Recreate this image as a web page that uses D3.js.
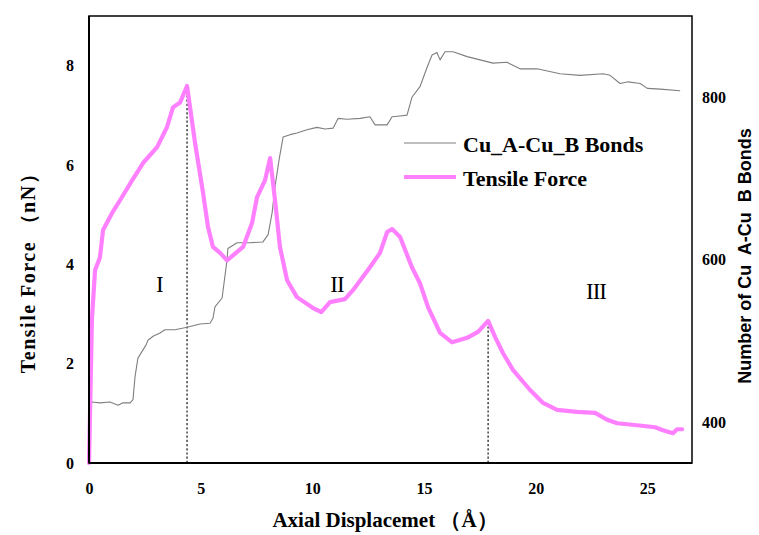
<!DOCTYPE html>
<html>
<head>
<meta charset="utf-8">
<script src="https://cdn.jsdelivr.net/npm/d3@7"></script>
<style>
  html, body { margin: 0; padding: 0; background: #fff; }
  svg { display: block; }
  .serif { font-family: "Times New Roman", "Liberation Serif", serif; }
  .sans { font-family: Arial, "Liberation Sans", sans-serif; }
</style>
</head>
<body>
<svg id="chart" width="759" height="535"></svg>
<script>
// Tensile force (nN) against axial displacement (Å)
const forceX = [0, 0.04, 0.13, 0.27, 0.49, 0.63, 1.03, 1.39, 1.93, 2.42, 3.05, 3.49, 3.76, 4.08, 4.39,
  4.75, 5.11, 5.33, 5.55, 5.87, 6.18, 6.90, 7.30, 7.52, 7.88, 8.11, 8.33, 8.55, 8.87, 9.31, 10.03, 10.4,
  10.79, 11.46, 11.82, 12.58, 13.03, 13.35, 13.57, 13.93, 14.46, 14.82, 15.18, 15.72, 16.26, 16.93, 17.42,
  17.87, 18.18, 18.54, 18.99, 19.75, 20.33, 20.96, 21.85, 22.66, 23.2, 23.65, 24.54, 25.35, 25.7, 26.15,
  26.33, 26.56];
const forceY = [0, 0.87, 2.88, 3.88, 4.14, 4.69, 5.03, 5.29, 5.69, 6.04, 6.36, 6.76, 7.16, 7.26, 7.59,
  6.44, 5.43, 4.75, 4.35, 4.23, 4.08, 4.35, 4.83, 5.35, 5.69, 6.14, 5.29, 4.35, 3.68, 3.34, 3.12, 3.04,
  3.24, 3.30, 3.48, 3.94, 4.23, 4.65, 4.71, 4.55, 3.94, 3.62, 3.14, 2.62, 2.43, 2.52, 2.64,
  2.86, 2.54, 2.21, 1.87, 1.47, 1.21, 1.07, 1.03, 1.01, 0.87, 0.80, 0.76, 0.72, 0.66, 0.60,
  0.68, 0.68];

// Number of Cu_A-Cu_B bonds against axial displacement (Å)
const bondX = [0, 0.13, 0.49, 0.94, 1.30, 1.52, 1.84, 1.97, 2.06, 2.19, 2.37, 2.55, 2.64, 2.87, 3.18,
  3.40, 3.85, 4.39, 4.97, 5.42, 5.55, 5.64, 5.96, 6.18, 6.22, 6.63, 7.21, 7.79, 8.02, 8.20, 8.33, 8.51,
  8.69, 9.0, 9.31, 9.76, 10.21, 10.57, 10.93, 11.15, 11.55, 12.14, 12.58, 12.81, 13.35, 13.57, 13.93,
  14.24, 14.46, 14.82, 15.14, 15.36, 15.58, 15.72, 15.94, 16.30, 16.93, 17.51, 18.09, 18.72, 19.30,
  20.06, 21.09, 21.99, 23.02, 23.33, 23.78, 24.14, 24.68, 25.0, 25.58, 26.47];
const bondY = [420, 425, 424, 425, 421, 424, 424, 428, 456, 479, 487, 495, 501, 506, 510,
  514, 514, 517, 521, 522, 528, 542, 553, 600, 614, 621, 621, 622, 631, 658, 690, 723,
  751, 754, 756, 760, 763, 761, 762, 774, 773, 774, 776, 766, 766, 776, 777,
  778, 800, 813, 837, 852, 855, 846, 856, 856, 850, 846, 842, 843, 835,
  835, 829, 827, 829, 827, 817, 819, 817, 811, 810, 808];

// Displacements of the two marked force peaks
const peakX = [4.39, 17.87];
const peakForce = [7.59, 2.86];

// Stage labels
const stageNames = ["I", "II", "III"];
const stageX = [3.15, 11.1, 22.7];
const stageForce = [3.6, 3.6, 3.45];

const xTicks = [0, 5, 10, 15, 20, 25];
const leftTicks = [0, 2, 4, 6, 8];
const rightTicks = [400, 600, 800];

const margin = { left: 89, top: 16, right: 692, bottom: 463 };

const svg = d3.select("#chart");

const x = d3.scaleLinear().domain([0, 27]).range([margin.left, margin.right]);
const yL = d3.scaleLinear().domain([0, 9]).range([margin.bottom, margin.top]);
const yR = d3.scaleLinear().domain([350, 900]).range([margin.bottom, margin.top]);

const pink = "#ff80ff";
const grey = "#7f7f7f";

// Stage boundary markers (dotted drop lines)
svg.append("g").selectAll("line").data(peakX).join("line")
  .attr("x1", d => x(d)).attr("x2", d => x(d))
  .attr("y1", yL(0)).attr("y2", (d, i) => yL(peakForce[i]))
  .attr("stroke", "#000").attr("stroke-width", 1.1)
  .attr("stroke-dasharray", "2.2,2");

// Bond count curve
const bondLine = d3.line().x((d, i) => x(bondX[i])).y(d => yR(d));
svg.append("path").datum(bondY)
  .attr("d", bondLine)
  .attr("fill", "none").attr("stroke", grey).attr("stroke-width", 1.1)
  .attr("stroke-linejoin", "round");

// Tensile force curve
const forceLine = d3.line().x((d, i) => x(forceX[i])).y(d => yL(d));
svg.append("path").datum(forceY)
  .attr("d", forceLine)
  .attr("fill", "none").attr("stroke", pink).attr("stroke-width", 4.2)
  .attr("stroke-linejoin", "round").attr("stroke-linecap", "round");

// Frame
svg.append("rect")
  .attr("x", margin.left).attr("y", margin.top)
  .attr("width", margin.right - margin.left).attr("height", margin.bottom - margin.top)
  .attr("fill", "none").attr("stroke", "#000").attr("stroke-width", 1.5);
svg.append("line").attr("x1", margin.left).attr("x2", margin.left)
  .attr("y1", margin.top).attr("y2", margin.bottom).attr("stroke", "#000").attr("stroke-width", 2);
svg.append("line").attr("x1", margin.left).attr("x2", margin.right)
  .attr("y1", margin.bottom).attr("y2", margin.bottom).attr("stroke", "#000").attr("stroke-width", 2.2);

// Axes (labels only, no tick marks)
const xAxis = svg.append("g").attr("transform", `translate(0,${margin.bottom})`)
  .call(d3.axisBottom(x).tickValues(xTicks).tickSize(0).tickPadding(20).tickFormat(d3.format("d")));
const lAxis = svg.append("g").attr("transform", `translate(${margin.left},0)`)
  .call(d3.axisLeft(yL).tickValues(leftTicks).tickSize(0).tickPadding(15).tickFormat(d3.format("d")));
const rAxis = svg.append("g").attr("transform", `translate(${margin.right},0)`)
  .call(d3.axisRight(yR).tickValues(rightTicks).tickSize(0).tickPadding(10).tickFormat(d3.format("d")));
[xAxis, lAxis, rAxis].forEach(g => {
  g.select(".domain").remove();
  g.selectAll("text").attr("class", "serif")
    .style("font-size", "16px").style("font-weight", "bold").attr("fill", "#000");
});

// Stage labels
svg.append("g").selectAll("text").data(stageNames).join("text")
  .attr("class", "serif")
  .attr("x", (d, i) => x(stageX[i])).attr("y", (d, i) => yL(stageForce[i]))
  .attr("text-anchor", "middle").attr("dominant-baseline", "central")
  .style("font-size", "23px").style("letter-spacing", "-1px")
  .text(d => d);

// Legend
const legend = svg.append("g");
const legendItems = [
  { label: "Cu_A-Cu_B Bonds", color: grey, width: 1.1, y: 143 },
  { label: "Tensile Force", color: pink, width: 4.2, y: 177 }
];
legendItems.forEach(it => {
  legend.append("line").attr("x1", 404).attr("x2", 456).attr("y1", it.y).attr("y2", it.y)
    .attr("stroke", it.color).attr("stroke-width", it.width);
  legend.append("text").attr("class", "serif")
    .attr("x", 463).attr("y", it.y + 1).attr("dominant-baseline", "central")
    .style("font-size", "22px").style("font-weight", "bold")
    .text(it.label);
});

// Axis titles
svg.append("text").attr("class", "serif")
  .attr("x", 385).attr("y", 527).attr("text-anchor", "middle")
  .style("font-size", "21px").style("font-weight", "bold")
  .text("Axial Displacemet （Å）");

svg.append("text").attr("class", "serif")
  .attr("transform", "translate(35,268) rotate(-90)")
  .attr("text-anchor", "middle")
  .style("font-size", "20px").style("font-weight", "bold").style("letter-spacing", "1.5px")
  .text("Tensile  Force （nN）");

svg.append("text").attr("class", "sans")
  .attr("transform", "translate(751,256) rotate(-90)")
  .attr("text-anchor", "middle")
  .style("font-size", "18px").style("font-weight", "bold").style("white-space", "pre")
  .text("Number of Cu  A-Cu  B Bonds");
</script>
</body>
</html>
